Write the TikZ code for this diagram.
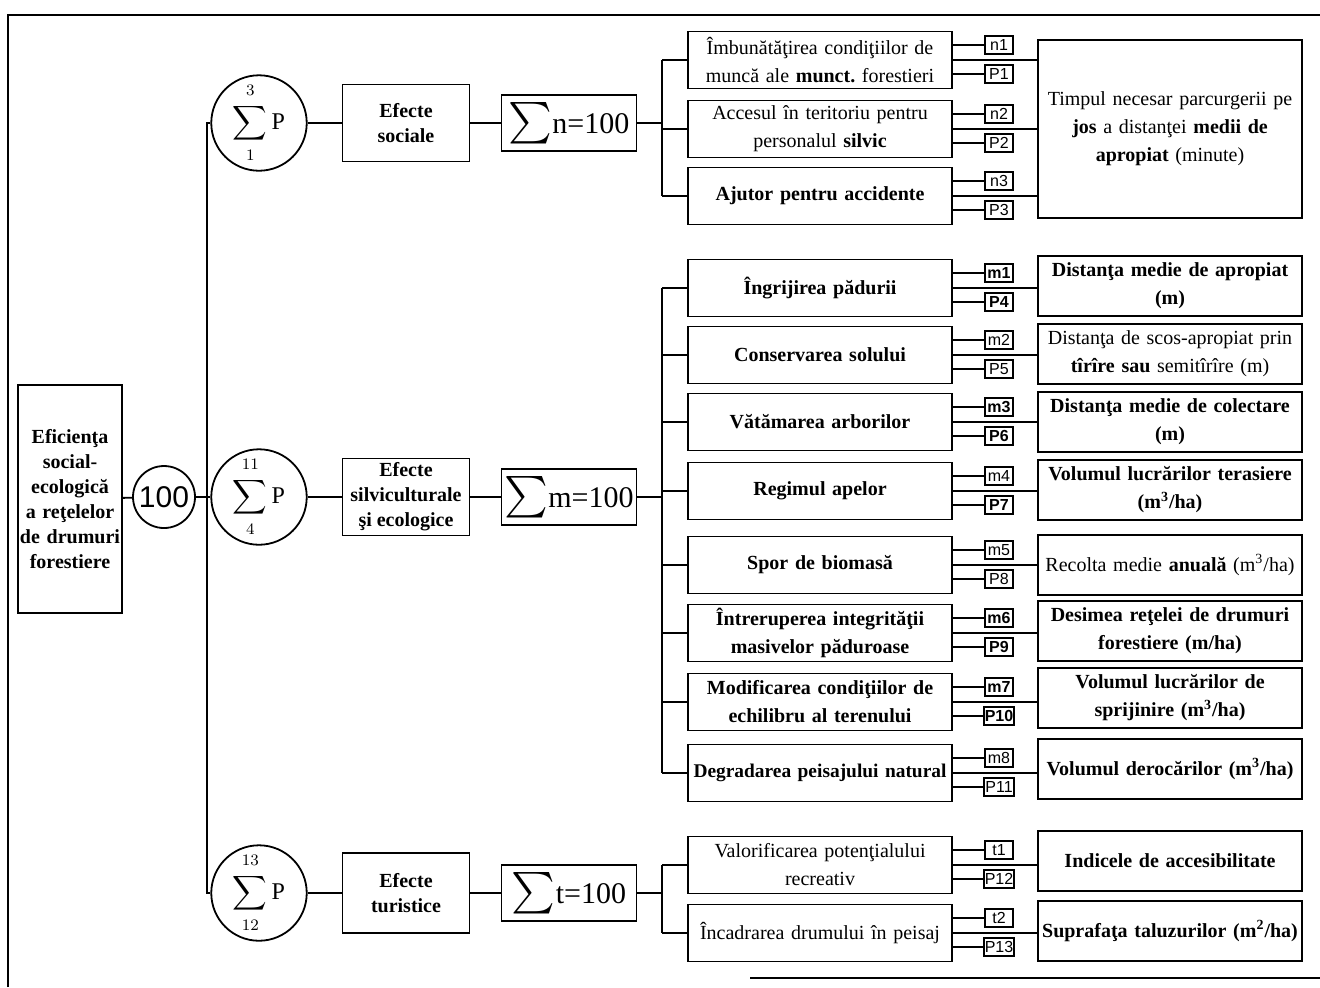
\documentclass[tikz,border=0pt]{standalone}
\usepackage{fontspec}
\setmainfont{Liberation Serif}
\setsansfont{Liberation Sans}
\usepackage{amsmath}
\usepackage{xcolor}

\begin{document}
\begin{tikzpicture}[x=0.5pt, y=-0.5pt,
	link/.style={draw=black, line width=0.9pt},
	mainbox/.style={draw=black, line width=0.9pt, align=center, inner sep=1pt, minimum width=63.5pt, minimum height=38.5pt, font=\bfseries\fontsize{10}{12.5}\selectfont},
	sumcirc/.style={draw=black, line width=0.9pt, circle, minimum size=38pt, inner sep=0pt, font=\fontsize{12}{14}\selectfont},
	sumbox/.style={draw=black, line width=0.9pt, minimum width=67.5pt, minimum height=28pt, inner sep=0pt, font=\fontsize{15}{18}\selectfont},
	midbox/.style={draw=black, line width=0.9pt, minimum width=132pt, minimum height=28.5pt, text width=130pt, align=center, inner sep=1pt, font=\fontsize{10}{14}\selectfont},
	midbold/.style={midbox, font=\bfseries\fontsize{10}{14}\selectfont},
	resbox/.style={midbox, minimum height=30pt},
	resbold/.style={resbox, font=\bfseries\fontsize{10}{14}\selectfont},
	lab/.style={draw=black, line width=0.9pt, minimum width=14pt, minimum height=9pt, inner sep=0.5pt, font=\sffamily\fontsize{8}{9}\selectfont},
	labb/.style={lab, font=\sffamily\bfseries\fontsize{8}{9}\selectfont}]
	\useasboundingbox (0,0) rectangle (1320,987);
	% frame of the page
	\draw[black, line width=1.4pt] (8,987) -- (8,15) -- (1320,15);
	\draw[black, line width=1.4pt] (750,978) -- (1320,978);

	% left part
	\node[draw=black, line width=0.9pt, minimum width=52pt, minimum height=114pt, text width=52pt, align=center, inner sep=0pt, font=\bfseries\fontsize{10}{12.5}\selectfont] (eff) at (70,499) {Eficienţa\\social-\\ecologică\\a reţelelor\\de drumuri\\forestiere};
	\node[draw=black, line width=0.9pt, circle, minimum size=31pt, inner sep=0pt, font=\sffamily\fontsize{15}{16}\selectfont] (c100) at (164,497) {100};
	\node[sumcirc] (sp1) at (259,123) {$\displaystyle\sum_{\rule{0pt}{7pt}1}^{3\rule[-3pt]{0pt}{0pt}}$\,P};
	\node[sumcirc] (sp2) at (259,497) {$\displaystyle\sum_{\rule{0pt}{7pt}4}^{11\rule[-3pt]{0pt}{0pt}}$\,P};
	\node[sumcirc] (sp3) at (259,893) {$\displaystyle\sum_{\rule{0pt}{7pt}12}^{13\rule[-3pt]{0pt}{0pt}}$\,P};
	\node[mainbox] (soc) at (406,123) {Efecte\\sociale};
	\node[mainbox] (silv) at (406,497) {Efecte\\silviculturale\\şi ecologice};
	\node[mainbox, minimum height=40pt] (tur) at (406,893) {Efecte\\turistice};
	\node[sumbox] (sn) at (569,123) {{\fontsize{20}{20}\selectfont$\sum$}n=100};
	\node[sumbox] (sm) at (569,497) {{\fontsize{20}{20}\selectfont$\sum$}m=100};
	\node[sumbox] (st) at (569,893) {{\fontsize{20}{20}\selectfont$\sum$}t=100};

	% criteria
	\node[midbox] (imb) at (820,60) {Îmbunătăţirea condiţiilor de\\muncă ale \textbf{munct.}\ forestieri};
	\node[midbox] (acc) at (820,129) {Accesul în teritoriu pentru\\personalul \textbf{silvic}};
	\node[midbold] (ajut) at (820,196) {Ajutor pentru accidente};
	\node[midbold] (ingr) at (820,288) {Îngrijirea pădurii};
	\node[midbold] (cons) at (820,355) {Conservarea solului};
	\node[midbold] (vat) at (820,422) {Vătămarea arborilor};
	\node[midbold] (reg) at (820,491) {Regimul apelor};
	\node[midbold] (spor) at (820,565) {Spor de biomasă};
	\node[midbold] (intr) at (820,633) {Întreruperea integrităţii\\masivelor păduroase};
	\node[midbold] (mod) at (820,702) {Modificarea condiţiilor de\\echilibru al terenului};
	\node[midbold, font=\bfseries\fontsize{9.7}{14}\selectfont] (degr) at (820,773) {Degradarea peisajului natural};
	\node[midbox] (valr) at (820,865) {Valorificarea potenţialului\\recreativ};
	\node[midbox] (inc) at (820,933) {Încadrarea drumului în peisaj};

	% indicators
	\node[resbox, minimum height=89pt] (timp) at (1170,129) {Timpul necesar parcurgerii pe\\\textbf{jos} a distanţei \textbf{medii de}\\\textbf{apropiat} (minute)};
	\node[resbold] (dma) at (1170,286) {Distanţa medie de apropiat\\(m)};
	\node[resbox] (dsa) at (1170,354) {Distanţa de scos-apropiat prin\\\textbf{tîrîre sau} semitîrîre (m)};
	\node[resbold] (dmc) at (1170,422) {Distanţa medie de colectare\\(m)};
	\node[resbold] (vlt) at (1170,490) {Volumul lucrărilor terasiere\\(m\textsuperscript{3}/ha)};
	\node[resbox] (rec) at (1170,565) {Recolta medie \textbf{anuală} (m\textsuperscript{3}/ha)};
	\node[resbold] (des) at (1170,631) {Desimea reţelei de drumuri\\forestiere (m/ha)};
	\node[resbold] (vls) at (1170,698) {Volumul lucrărilor de\\sprijinire (m\textsuperscript{3}/ha)};
	\node[resbold] (vder) at (1170,769) {Volumul derocărilor (m\textsuperscript{3}/ha)};
	\node[resbold] (ind) at (1170,861) {Indicele de accesibilitate};
	\node[resbold] (supr) at (1170,931) {Suprafaţa taluzurilor (m\textsuperscript{2}/ha)};

	% connectors
	\coordinate (spine) at (207,0);
	\coordinate (brk) at (662,0);
	\coordinate (labcol) at (999,0);
	\draw[link] (eff) -- (c100);
	\draw[link] (c100) -- (sp2);
	\draw[link] (sp1) -- (sp1.west -| spine) -- (sp3.west -| spine) -- (sp3);
	\draw[link] (sp1) -- (soc);
	\draw[link] (soc) -- (sn);
	\draw[link] (sp2) -- (silv);
	\draw[link] (silv) -- (sm);
	\draw[link] (sp3) -- (tur);
	\draw[link] (tur) -- (st);
	\draw[link] (sn) -- (sn.east -| brk);
	\draw[link] (sm) -- (sm.east -| brk);
	\draw[link] (st) -- (st.east -| brk);
	\draw[link] (imb.west -| brk) -- (ajut.west -| brk);
	\draw[link] (ingr.west -| brk) -- (degr.west -| brk);
	\draw[link] (valr.west -| brk) -- (inc.west -| brk);
	\foreach \bx in {imb,acc,ajut,ingr,cons,vat,reg,spor,intr,mod,degr,valr,inc}
		\draw[link] (\bx.west -| brk) -- (\bx);
	\foreach \bx/\rx in {imb/timp,acc/timp,ajut/timp,ingr/dma,cons/dsa,vat/dmc,reg/vlt,spor/rec,intr/des,mod/vls,degr/vder,valr/ind,inc/supr}
		\draw[link] (\bx.east) -- (\bx.east -| \rx.west);
	\foreach \bx/\up/\su/\dn/\sd in {imb/n1/lab/P1/lab, acc/n2/lab/P2/lab, ajut/n3/lab/P3/lab, ingr/m1/labb/P4/labb, cons/m2/lab/P5/lab, vat/m3/labb/P6/labb, reg/m4/lab/P7/labb, spor/m5/lab/P8/lab, intr/m6/labb/P9/labb, mod/m7/labb/P10/labb, degr/m8/lab/P11/lab, valr/t1/lab/P12/lab, inc/t2/lab/P13/lab}{
		\path (\bx.center -| labcol) ++(0,-15) node[\su] (\bx-up) {\up};
		\path (\bx.center -| labcol) ++(0,14) node[\sd] (\bx-dn) {\dn};
		\draw[link] (\bx.east |- \bx-up) -- (\bx-up);
		\draw[link] (\bx.east |- \bx-dn) -- (\bx-dn);
	}
\end{tikzpicture}
\end{document}
